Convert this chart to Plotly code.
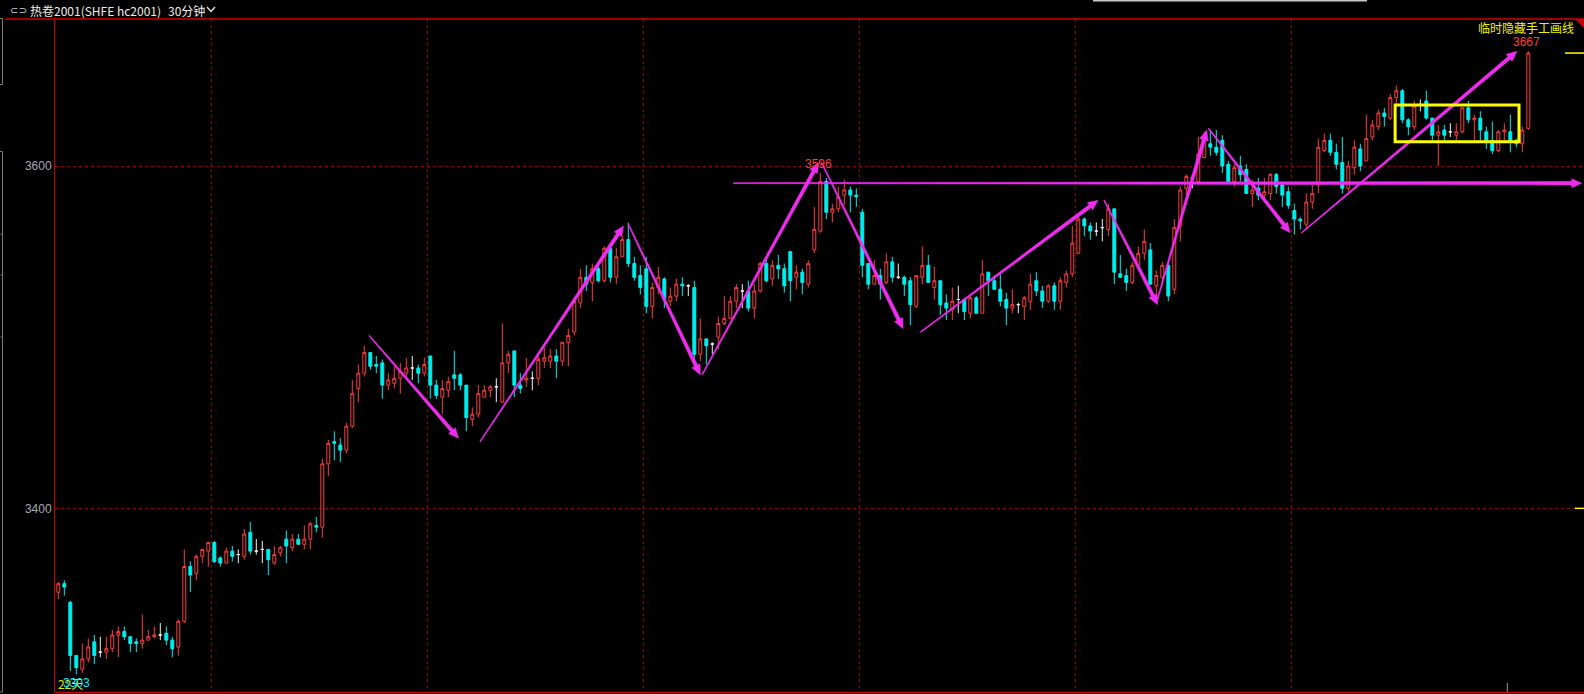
import math
import plotly.graph_objects as go

# ---------------- data ----------------
opens = [3351, 3356, 3345, 3314, 3306, 3312, 3322, 3316, 3316, 3318,
         3326, 3328, 3325, 3322, 3321, 3323, 3325, 3326, 3327, 3323,
         3319, 3334, 3366, 3362, 3372, 3375, 3380, 3371, 3368, 3375,
         3373, 3372, 3386, 3375, 3376, 3376, 3368, 3374, 3382, 3377,
         3382, 3379, 3382, 3390, 3389, 3426, 3439, 3437, 3434, 3448,
         3470, 3479, 3491, 3484, 3485, 3472, 3473, 3476, 3479, 3482,
         3482, 3479, 3489, 3472, 3465, 3469, 3478, 3478, 3472, 3452,
         3455, 3465, 3469, 3471, 3462, 3485, 3492, 3472, 3475, 3476,
         3476, 3486, 3486, 3489, 3486, 3497, 3503, 3520, 3535, 3532,
         3540, 3533, 3552, 3535, 3547, 3557, 3543, 3536, 3540, 3518,
         3529, 3534, 3521, 3524, 3531, 3530, 3529, 3490, 3499, 3496,
         3500, 3508, 3511, 3521, 3527, 3527, 3517, 3527, 3543, 3534,
         3542, 3540, 3550, 3535, 3538, 3531, 3551, 3562, 3591, 3573,
         3575, 3583, 3586, 3583, 3573, 3543, 3531, 3536, 3532, 3544,
         3535, 3535, 3533, 3518, 3535, 3542, 3529, 3533, 3520, 3516,
         3522, 3522, 3514, 3523, 3514, 3538, 3533, 3528, 3522, 3517,
         3519, 3518, 3521, 3533, 3527, 3521, 3530, 3521, 3532, 3537,
         3549, 3569, 3565, 3562, 3564, 3563, 3575, 3537, 3536, 3532,
         3542, 3549, 3551, 3530, 3535, 3542, 3528, 3565, 3587, 3593,
         3591, 3605, 3613, 3611, 3615, 3601, 3591, 3600, 3598, 3584,
         3587, 3583, 3584, 3595, 3589, 3585, 3574, 3569, 3566, 3579,
         3589, 3609, 3615, 3608, 3602, 3587, 3599, 3610, 3603, 3617,
         3623, 3631, 3628, 3640, 3644, 3627, 3623, 3636, 3638, 3628,
         3618, 3621, 3620, 3618, 3620, 3634, 3627, 3628, 3620, 3615,
         3609, 3620, 3620, 3615, 3613, 3622]
highs = [3357, 3358, 3346, 3314, 3321, 3324, 3326, 3325, 3325, 3329,
         3331, 3331, 3325, 3324, 3338, 3329, 3331, 3333, 3331, 3325,
         3335, 3376, 3369, 3373, 3376, 3380, 3381, 3372, 3377, 3378,
         3376, 3388, 3392, 3382, 3381, 3376, 3378, 3378, 3387, 3385,
         3385, 3390, 3392, 3395, 3429, 3440, 3445, 3441, 3450, 3475,
         3484, 3495, 3491, 3489, 3487, 3479, 3483, 3485, 3488, 3489,
         3484, 3488, 3489, 3475, 3475, 3477, 3492, 3479, 3472, 3459,
         3472, 3472, 3472, 3476, 3508, 3492, 3492, 3479, 3488, 3480,
         3489, 3494, 3493, 3493, 3497, 3505, 3523, 3540, 3542, 3543,
         3542, 3553, 3553, 3552, 3559, 3567, 3547, 3542, 3547, 3532,
         3541, 3535, 3529, 3534, 3535, 3531, 3533, 3511, 3499, 3497,
         3512, 3524, 3524, 3531, 3531, 3533, 3531, 3544, 3547, 3545,
         3548, 3543, 3550, 3542, 3540, 3545, 3576, 3596, 3593, 3578,
         3588, 3592, 3588, 3587, 3575, 3543, 3545, 3540, 3549, 3547,
         3543, 3536, 3535, 3536, 3553, 3548, 3541, 3533, 3525, 3529,
         3530, 3523, 3524, 3524, 3545, 3538, 3536, 3537, 3526, 3528,
         3520, 3524, 3537, 3538, 3530, 3531, 3532, 3535, 3539, 3565,
         3571, 3570, 3567, 3567, 3569, 3578, 3575, 3548, 3540, 3544,
         3553, 3563, 3555, 3539, 3544, 3544, 3569, 3588, 3595, 3595,
         3617, 3620, 3621, 3621, 3618, 3603, 3601, 3606, 3601, 3592,
         3593, 3593, 3596, 3596, 3591, 3588, 3578, 3570, 3584, 3589,
         3616, 3619, 3619, 3613, 3617, 3603, 3615, 3613, 3630, 3627,
         3633, 3634, 3642, 3647, 3645, 3628, 3638, 3639, 3644, 3628,
         3624, 3624, 3625, 3625, 3634, 3638, 3630, 3632, 3623, 3626,
         3621, 3625, 3630, 3616, 3623, 3667]
lows = [3347, 3349, 3305, 3303, 3304, 3310, 3309, 3313, 3312, 3316,
        3313, 3323, 3316, 3316, 3318, 3323, 3324, 3323, 3320, 3313,
        3314, 3333, 3351, 3358, 3368, 3366, 3368, 3366, 3368, 3369,
        3368, 3370, 3373, 3373, 3368, 3361, 3367, 3372, 3368, 3375,
        3379, 3376, 3376, 3386, 3383, 3419, 3428, 3427, 3432, 3447,
        3462, 3477, 3481, 3479, 3464, 3469, 3470, 3467, 3477, 3475,
        3473, 3477, 3464, 3464, 3455, 3465, 3469, 3469, 3445, 3448,
        3453, 3465, 3465, 3462, 3462, 3479, 3465, 3467, 3471, 3469,
        3472, 3482, 3482, 3476, 3483, 3483, 3501, 3517, 3527, 3521,
        3532, 3532, 3532, 3531, 3547, 3541, 3533, 3525, 3514, 3511,
        3525, 3517, 3518, 3521, 3524, 3524, 3485, 3486, 3484, 3490,
        3493, 3507, 3511, 3517, 3517, 3515, 3511, 3526, 3532, 3530,
        3534, 3526, 3521, 3528, 3525, 3529, 3549, 3561, 3569, 3567,
        3573, 3577, 3573, 3576, 3535, 3528, 3531, 3522, 3531, 3532,
        3534, 3524, 3507, 3517, 3531, 3532, 3522, 3513, 3510, 3510,
        3514, 3510, 3511, 3514, 3514, 3524, 3528, 3518, 3507, 3514,
        3514, 3510, 3516, 3524, 3517, 3520, 3516, 3516, 3529, 3535,
        3549, 3559, 3557, 3559, 3556, 3559, 3531, 3535, 3527, 3531,
        3539, 3545, 3531, 3520, 3531, 3521, 3525, 3556, 3583, 3587,
        3591, 3605, 3606, 3606, 3596, 3591, 3588, 3591, 3584, 3576,
        3580, 3579, 3580, 3584, 3576, 3575, 3560, 3563, 3563, 3575,
        3584, 3608, 3606, 3598, 3584, 3585, 3595, 3597, 3603, 3615,
        3621, 3623, 3627, 3636, 3625, 3618, 3621, 3632, 3627, 3615,
        3600, 3615, 3617, 3615, 3619, 3625, 3615, 3614, 3610, 3607,
        3608, 3614, 3608, 3611, 3608, 3621]
closes = [3356, 3354, 3314, 3307, 3312, 3319, 3314, 3316, 3318, 3326,
          3328, 3325, 3321, 3321, 3323, 3325, 3326, 3326, 3323, 3318,
          3334, 3366, 3361, 3372, 3376, 3380, 3369, 3368, 3375, 3372,
          3373, 3385, 3375, 3375, 3376, 3370, 3373, 3377, 3378, 3382,
          3379, 3382, 3391, 3389, 3426, 3438, 3438, 3434, 3448, 3467,
          3479, 3491, 3483, 3483, 3472, 3475, 3476, 3480, 3482, 3482,
          3479, 3484, 3472, 3466, 3470, 3474, 3476, 3472, 3453, 3455,
          3467, 3469, 3471, 3471, 3485, 3490, 3472, 3470, 3476, 3476,
          3487, 3488, 3489, 3486, 3497, 3501, 3521, 3535, 3531, 3540,
          3533, 3552, 3535, 3547, 3557, 3543, 3535, 3529, 3518, 3529,
          3535, 3522, 3524, 3531, 3530, 3530, 3490, 3499, 3495, 3496,
          3508, 3511, 3521, 3529, 3527, 3517, 3527, 3543, 3533, 3542,
          3540, 3530, 3533, 3538, 3532, 3543, 3563, 3591, 3573, 3575,
          3582, 3586, 3583, 3582, 3542, 3531, 3536, 3531, 3544, 3535,
          3535, 3531, 3519, 3536, 3542, 3532, 3533, 3519, 3517, 3521,
          3522, 3515, 3523, 3514, 3537, 3533, 3528, 3521, 3517, 3519,
          3519, 3523, 3531, 3527, 3521, 3530, 3521, 3533, 3537, 3555,
          3569, 3565, 3562, 3562, 3564, 3575, 3538, 3535, 3532, 3542,
          3549, 3556, 3531, 3536, 3542, 3524, 3564, 3586, 3594, 3593,
          3607, 3617, 3611, 3608, 3600, 3591, 3599, 3595, 3584, 3586,
          3583, 3585, 3595, 3588, 3583, 3577, 3569, 3568, 3579, 3584,
          3611, 3615, 3608, 3601, 3587, 3600, 3611, 3600, 3616, 3624,
          3631, 3629, 3640, 3644, 3627, 3623, 3635, 3636, 3628, 3618,
          3620, 3618, 3620, 3620, 3634, 3627, 3628, 3621, 3615, 3609,
          3620, 3621, 3614, 3613, 3621, 3666]

session_breaks = [25.5, 61.5, 97.5, 133.5, 169.5, 205.5]   # day separators (candle index)
price_ticks = [3400, 3600]
marked_highs = [127, 245]                                   # candles whose high is labelled

# hand-drawn trend arrows: (start index, start price, tip index, tip price)
trend_arrows = [
    (51.8, 3501, 66.7, 3441),
    (70.3, 3439, 94.2, 3565),
    (95.0, 3566, 107.0, 3478),
    (107.3, 3478, 126.7, 3602),
    (127.2, 3602, 140.8, 3505),
    (143.7, 3503, 173.3, 3580),
    (174.3, 3580, 183.2, 3519),
    (183.1, 3521, 191.4, 3621),
    (191.7, 3622, 205.3, 3561),
    (207.2, 3561, 243.1, 3667),
    (112.5, 3590, 253.9, 3590),
]
box_zone = (222.8, 3614.2, 243.45, 3635.6)   # yellow consolidation box

header_title = "热卷2001(SHFE hc2001)"
period_label = "30分钟"
hide_label = "临时隐藏手工画线"
count_label = "22天"

# ---------------- styling / layout ----------------
W, H = 1584, 694
ML, MR, MT, MB = 55, 0, 19, 2
PW, PH = W - ML - MR, H - MT - MB
X_RANGE = [-0.55, 254.28]
Y_RANGE = [3292.7, 3685.9]

UP = "#ff3c3c"
DN = "#00eeee"
DOJI = "#f0f0f0"
MAG = "#f02cf0"
YEL = "#ffff00"
AXRED = "#c80000"
GRIDRED = "#8c0000"
CJK = "Noto Sans CJK SC"


def dx2px(x):
    return ML + (x - X_RANGE[0]) / (X_RANGE[1] - X_RANGE[0]) * PW


def dy2px(y):
    return MT + (Y_RANGE[1] - y) / (Y_RANGE[1] - Y_RANGE[0]) * PH


def px2dx(px):
    return X_RANGE[0] + (px - ML) / PW * (X_RANGE[1] - X_RANGE[0])


def px2dy(py):
    return Y_RANGE[1] - (py - MT) / PH * (Y_RANGE[1] - Y_RANGE[0])


def pxp(px):
    return (px - ML) / PW


def pyp(py):
    return (H - MB - py) / PH


def arrow_path(x0, y0, x1, y1, w0=1.0, w1=3.6, hl=10.0, hw=9.0):
    ax, ay = dx2px(x0), dy2px(y0)
    bx, by = dx2px(x1), dy2px(y1)
    L = math.hypot(bx - ax, by - ay)
    ux, uy = (bx - ax) / L, (by - ay) / L
    nx, ny = -uy, ux
    cx, cy = bx - ux * hl, by - uy * hl
    pts = [(ax + nx * w0 / 2, ay + ny * w0 / 2),
           (cx + nx * w1 / 2, cy + ny * w1 / 2),
           (cx + nx * hw / 2, cy + ny * hw / 2),
           (bx, by),
           (cx - nx * hw / 2, cy - ny * hw / 2),
           (cx - nx * w1 / 2, cy - ny * w1 / 2),
           (ax - nx * w0 / 2, ay - ny * w0 / 2)]
    return "M " + " L ".join(f"{px2dx(p[0]):.4f},{px2dy(p[1]):.4f}" for p in pts) + " Z"


idx = list(range(len(opens)))


def candle_trace(sel, inc_line, inc_fill, dec_line, dec_fill):
    return go.Candlestick(
        x=sel,
        open=[opens[i] for i in sel],
        high=[highs[i] for i in sel],
        low=[lows[i] for i in sel],
        close=[closes[i] for i in sel],
        increasing=dict(line=dict(color=inc_line, width=1), fillcolor=inc_fill),
        decreasing=dict(line=dict(color=dec_line, width=1), fillcolor=dec_fill),
        whiskerwidth=0,
        showlegend=False,
        hoverinfo="skip",
    )


up_idx = [i for i in idx if closes[i] > opens[i]]
dn_idx = [i for i in idx if closes[i] < opens[i]]
dj_idx = [i for i in idx if closes[i] == opens[i]]

fig = go.Figure()
fig.add_trace(candle_trace(up_idx, UP, "#000000", UP, "#000000"))
fig.add_trace(candle_trace(dn_idx, DN, DN, DN, DN))
fig.add_trace(candle_trace(dj_idx, DOJI, DOJI, DOJI, DOJI))

shapes = []
# frame lines
shapes.append(dict(type="line", xref="paper", yref="paper", x0=pxp(5), x1=1, y0=1, y1=1,
                   line=dict(color=AXRED, width=1.5)))
shapes.append(dict(type="line", xref="paper", yref="paper", x0=0, x1=1, y0=pyp(692.5), y1=pyp(692.5),
                   line=dict(color=AXRED, width=1.5)))
# corner triangle
shapes.append(dict(type="path", xref="paper", yref="paper",
                   path=f"M {pxp(1575)},{pyp(19)} L {pxp(1584)},{pyp(19)} L {pxp(1584)},{pyp(28)} Z",
                   fillcolor=AXRED, line=dict(width=0)))
# popup frame edge at very top
shapes.append(dict(type="line", xref="paper", yref="paper", x0=pxp(1093), x1=pxp(1367),
                   y0=pyp(0.8), y1=pyp(0.8), line=dict(color="#c8c8c8", width=1.5)))
# left grey brackets
GR = "#7a7a7a"
for (ya, yb) in [(18.5, 84.5), (151.5, 692)]:
    shapes.append(dict(type="path", xref="paper", yref="paper",
                       path=f"M {pxp(0)},{pyp(ya)} L {pxp(2.5)},{pyp(ya)} L {pxp(2.5)},{pyp(yb)} L {pxp(0)},{pyp(yb)}",
                       line=dict(color=GR, width=1)))
for yt in [234, 275, 337]:
    shapes.append(dict(type="line", xref="paper", yref="paper", x0=pxp(0.5), x1=pxp(2.5),
                       y0=pyp(yt), y1=pyp(yt), line=dict(color=GR, width=1)))
# right-edge yellow markers (last close, 3400 level)
shapes.append(dict(type="line", xref="paper", yref="y", x0=pxp(1565), x1=1,
                   y0=closes[-1], y1=closes[-1], line=dict(color=YEL, width=1.5)))
shapes.append(dict(type="line", xref="paper", yref="y", x0=pxp(1575), x1=1,
                   y0=price_ticks[0], y1=price_ticks[0], line=dict(color=YEL, width=1.5)))
# small grey tick at bottom
shapes.append(dict(type="line", xref="x", yref="paper", x0=241.5, x1=241.5,
                   y0=pyp(692), y1=pyp(683), line=dict(color="#9a9a9a", width=1)))
# chevron in header
shapes.append(dict(type="path", xref="paper", yref="paper",
                   path=f"M {pxp(207)},{pyp(7)} L {pxp(211)},{pyp(11.5)} L {pxp(215)},{pyp(7)}",
                   line=dict(color="#e8e8e8", width=1.3)))
# trend arrows
for (x0, y0, x1, y1) in trend_arrows:
    shapes.append(dict(type="path", xref="x", yref="y", path=arrow_path(x0, y0, x1, y1),
                       fillcolor=MAG, line=dict(color=MAG, width=0.5), layer="above"))
# yellow box
bx0, by0, bx1, by1 = box_zone
shapes.append(dict(type="rect", xref="x", yref="y", x0=bx0, x1=bx1, y0=by0, y1=by1,
                   line=dict(color=YEL, width=3), fillcolor="rgba(0,0,0,0)", layer="above"))

annotations = []
for i in marked_highs:
    annotations.append(dict(x=i, y=highs[i], xref="x", yref="y", text=f"{highs[i]}",
                            showarrow=False, yanchor="middle", xanchor="center", yshift=9, xshift=-2,
                            font=dict(family="Liberation Sans", size=12, color=UP)))
imin = min(idx, key=lambda i: lows[i])
annotations.append(dict(x=imin, y=lows[imin], xref="x", yref="y", text=count_label,
                        showarrow=False, yanchor="middle", xanchor="left", yshift=-9,
                        xshift=dx2px(-0.55) - dx2px(imin) + 1,
                        font=dict(family=CJK, size=12, color="#e6e600")))
annotations.append(dict(x=imin, y=lows[imin], xref="x", yref="y", text=f"{lows[imin]}",
                        showarrow=False, yanchor="middle", xanchor="center", yshift=-9,
                        font=dict(family="Liberation Sans", size=12, color=DN)))
# header
annotations.append(dict(x=pxp(8), y=pyp(10), xref="paper", yref="paper", text="⊂⊃",
                        showarrow=False, xanchor="left", yanchor="middle",
                        font=dict(family="DejaVu Sans", size=10, color="#cfcfcf")))
annotations.append(dict(x=pxp(28), y=pyp(10), xref="paper", yref="paper", text=header_title,
                        showarrow=False, xanchor="left", yanchor="middle",
                        font=dict(family=CJK, size=12, color="#ececec")))
annotations.append(dict(x=pxp(166), y=pyp(10), xref="paper", yref="paper", text=period_label,
                        showarrow=False, xanchor="left", yanchor="middle",
                        font=dict(family=CJK, size=12, color="#ececec")))
annotations.append(dict(x=pxp(1576), y=pyp(27.5), xref="paper", yref="paper", text=hide_label,
                        showarrow=False, xanchor="right", yanchor="middle",
                        font=dict(family=CJK, size=12, color="#f0f000")))

fig.update_layout(
    template="none",
    width=W, height=H,
    margin=dict(l=ML, r=MR, t=MT, b=MB, pad=0),
    paper_bgcolor="#000000",
    plot_bgcolor="#000000",
    showlegend=False,
    boxgap=0.3,
    shapes=shapes,
    annotations=annotations,
    xaxis=dict(range=X_RANGE, rangeslider=dict(visible=False), showticklabels=False,
               tickmode="array", tickvals=session_breaks, ticks="",
               showgrid=True, gridcolor=GRIDRED, gridwidth=1, griddash="3px,3px",
               zeroline=False, showline=False, automargin=False, fixedrange=True),
    yaxis=dict(range=Y_RANGE, tickmode="array", tickvals=price_ticks, ticks="",
               tickfont=dict(family="Liberation Sans", size=12, color="#a4a8b4"),
               showgrid=True, gridcolor=GRIDRED, gridwidth=1, griddash="3px,3px",
               zeroline=False, showline=True, linecolor=AXRED, linewidth=1,
               automargin=False, fixedrange=True),
)

fig.write_html(
    "out.html",
    config={"displayModeBar": False},
    post_script="document.body.style.margin='0';document.body.style.background='#000';"
                "document.documentElement.style.overflow='hidden';",
)
